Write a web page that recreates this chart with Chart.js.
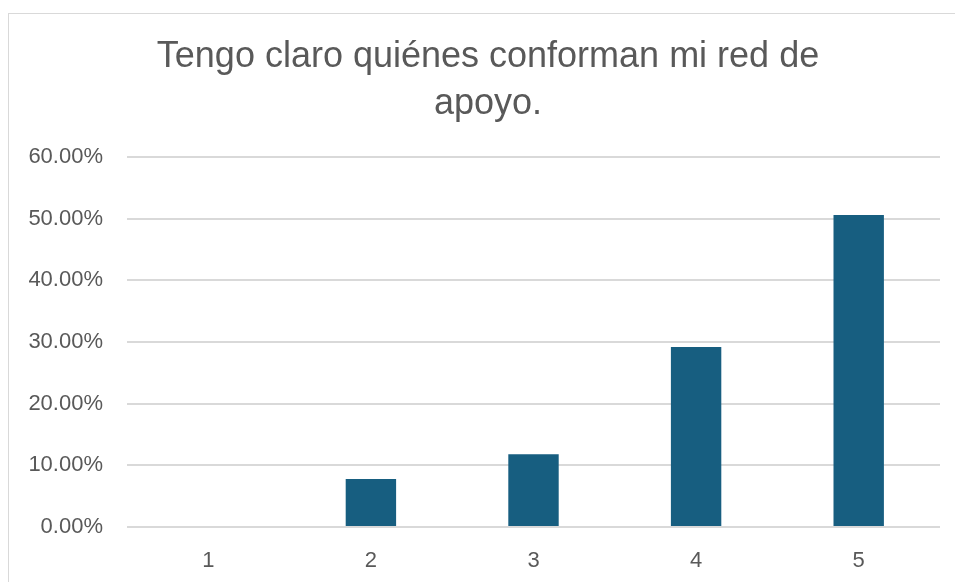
<!DOCTYPE html>
<html>
<head>
<meta charset="utf-8">
<script src="https://cdn.jsdelivr.net/npm/chart.js@4.4.1/dist/chart.umd.min.js"></script>
<style>
  html, body { margin: 0; padding: 0; background: #fff; }
  #wrap { position: relative; width: 955px; height: 582px; overflow: hidden; }
  #frame { position: absolute; left: 8px; top: 13px; width: 1100px; height: 1000px; border: 1px solid #d9d9d9; }
  #myChart { position: absolute; left: 0; top: 0; }
</style>
</head>
<body>
<div id="wrap">
  <div id="frame"></div>
  <canvas id="myChart" width="955" height="582"></canvas>
</div>
<script>
// data
const categories = ["1", "2", "3", "4", "5"];
const percentValues = [0, 7.8, 11.8, 29.2, 50.6];
const titleLines = ["Tengo claro quiénes conforman mi red de", "apoyo."];

const textColor = "#595959";
const fontFamily = "'Liberation Sans', Arial, sans-serif";

// title drawn by hand so it can sit off-centre like the original
const titlePlugin = {
  id: "offsetTitle",
  afterDraw(chart) {
    const c = chart.ctx;
    c.save();
    c.fillStyle = textColor;
    c.font = "36px " + fontFamily;
    c.textAlign = "center";
    c.textBaseline = "alphabetic";
    titleLines.forEach((line, i) => {
      c.fillText(line, 488, 67 + i * 46.5);
    });
    c.restore();
  },
};

const ctx = document.getElementById("myChart").getContext("2d");
const myChart = new Chart(ctx, {
  type: "bar",
  data: {
    labels: categories,
    datasets: [
      {
        label: "data",
        data: percentValues,
        backgroundColor: "#175e80",
        categoryPercentage: 1,
        barPercentage: 0.31,
      },
    ],
  },
  plugins: [titlePlugin],
  options: {
    responsive: false,
    animation: false,
    layout: {
      padding: { left: 0, right: 15, top: 157, bottom: 0 },
    },
    plugins: {
      legend: { display: false },
      tooltip: { enabled: false },
      title: { display: false },
    },
    scales: {
      x: {
        grid: { display: false },
        border: { display: false },
        ticks: {
          color: textColor,
          font: { family: fontFamily, size: 22 },
          padding: 13,
        },
        afterFit: (scale) => {
          scale.height = 55;
        },
      },
      y: {
        min: 0,
        max: 60,
        grid: { color: "#d9d9d9", lineWidth: 2, drawTicks: false },
        border: { display: false },
        ticks: {
          stepSize: 10,
          color: textColor,
          font: { family: fontFamily, size: 22 },
          padding: 24,
          callback: (v) => v.toFixed(2) + "%",
        },
        afterFit: (scale) => {
          scale.width = 127;
        },
      },
    },
  },
});
</script>
</body>
</html>
